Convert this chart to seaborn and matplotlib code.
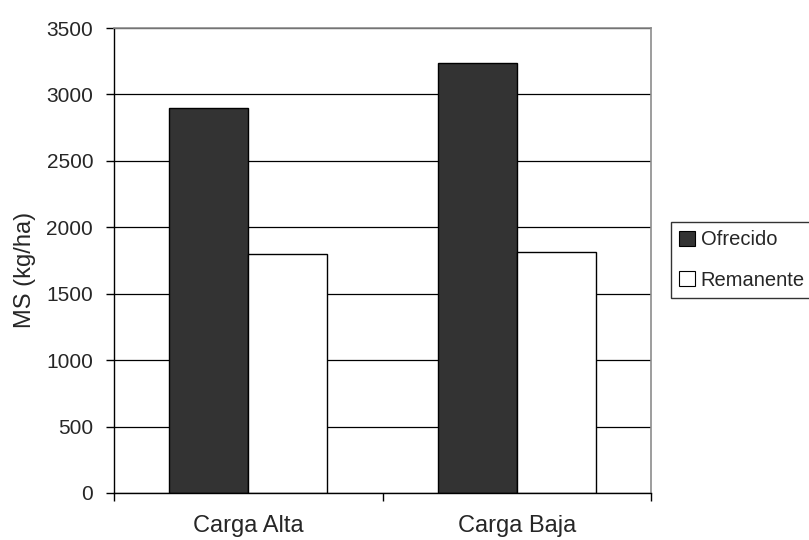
import matplotlib
matplotlib.use("Agg")
import matplotlib.pyplot as plt
import seaborn as sns
import pandas as pd
from matplotlib.patches import Patch
from matplotlib.ticker import FixedLocator

categories = ["Carga Alta", "Carga Baja"]
series = ["Ofrecido", "Remanente"]
ofrecido = [2900, 3240]
remanente = [1800, 1815]
y_ticks = [0, 500, 1000, 1500, 2000, 2500, 3000, 3500]

df = pd.DataFrame({
    "categoria": categories * 2,
    "serie": [series[0]] * len(categories) + [series[1]] * len(categories),
    "valor": ofrecido + remanente,
})

sns.set_theme(style="white")
plt.rcParams["font.family"] = ["Liberation Sans", "DejaVu Sans"]

fig = plt.figure(figsize=(8.09, 5.40), dpi=100)
ax = fig.add_axes([114 / 809, 1 - 493 / 540, (651 - 114) / 809, (493 - 28) / 540])

palette = {"Ofrecido": "#333333", "Remanente": "#ffffff"}
sns.barplot(data=df, x="categoria", y="valor", hue="serie", order=categories,
            hue_order=series, palette=palette, width=0.59, gap=0,
            edgecolor="black", linewidth=1.0, saturation=1, ax=ax, legend=False)

ax.set_xlim(-0.5, 1.5)
ax.set_ylim(0, 3500)
ax.set_yticks(y_ticks)
ax.yaxis.grid(True, color="black", linewidth=0.9)
ax.set_axisbelow(True)

# category boundaries carry the x tick marks; labels sit between them
ax.set_xticks([0, 1])
ax.set_xticklabels(categories)
ax.xaxis.set_minor_locator(FixedLocator([-0.5, 0.5, 1.5]))
ax.tick_params(axis="x", which="major", length=0, pad=16, labelsize=17)
ax.tick_params(axis="x", which="minor", length=6, width=1, color="black", direction="out")
ax.tick_params(axis="y", length=6, width=1, color="black", direction="out", labelsize=15, pad=9)
ax.tick_params(left=True, bottom=True, which="both")

ax.set_xlabel("")
ax.set_ylabel("MS (kg/ha)", fontsize=17)
ax.yaxis.set_label_coords(-0.146, 0.48)

for side in ["left", "bottom"]:
    ax.spines[side].set_color("black")
    ax.spines[side].set_linewidth(1.0)
for side in ["top", "right"]:
    ax.spines[side].set_color("#8c8c8c")
    ax.spines[side].set_linewidth(1.2)

handles = [Patch(facecolor=palette[s], edgecolor="black", linewidth=0.8, label=s) for s in series]
leg = fig.legend(handles=handles, loc="upper left", bbox_to_anchor=(671 / 809, 1 - 222 / 540),
                 frameon=True, fontsize=14.5, handlelength=0.75, handleheight=0.75,
                 handletextpad=0.3, labelspacing=1.05, borderpad=0.42, borderaxespad=0,
                 fancybox=False)
leg.get_frame().set_edgecolor("black")
leg.get_frame().set_linewidth(1.0)

fig.savefig("out.png", dpi=100)
